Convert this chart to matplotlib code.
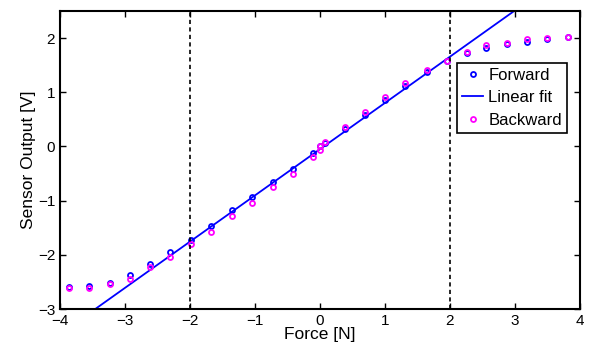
import numpy as np
import matplotlib
matplotlib.use("Agg")
import matplotlib.pyplot as plt

plt.rcParams["font.family"] = ["Liberation Sans", "DejaVu Sans"]

# Forward sweep
force_fwd = [-3.86, -3.55, -3.23, -2.92, -2.62, -2.30, -1.99, -1.68, -1.36, -1.04,
             -0.73, -0.42, -0.11, 0.00, 0.07, 0.38, 0.69, 1.00, 1.31, 1.64,
             1.95, 2.26, 2.56, 2.88, 3.19, 3.50, 3.81]
volt_fwd = [-2.60, -2.58, -2.52, -2.38, -2.16, -1.95, -1.73, -1.46, -1.17, -0.94,
            -0.65, -0.41, -0.12, 0.00, 0.06, 0.32, 0.58, 0.86, 1.12, 1.37,
            1.57, 1.73, 1.82, 1.89, 1.93, 1.99, 2.01]

# Backward sweep
force_bwd = [-3.86, -3.55, -3.23, -2.92, -2.62, -2.30, -1.99, -1.68, -1.36, -1.04,
             -0.73, -0.42, -0.11, 0.00, 0.00, 0.07, 0.38, 0.69, 1.00, 1.31,
             1.64, 1.95, 2.26, 2.56, 2.88, 3.19, 3.50, 3.81]
volt_bwd = [-2.61, -2.61, -2.53, -2.44, -2.22, -2.04, -1.80, -1.57, -1.28, -1.05,
            -0.75, -0.51, -0.19, -0.06, 0.00, 0.09, 0.36, 0.63, 0.91, 1.17,
            1.41, 1.57, 1.74, 1.87, 1.90, 1.98, 2.00, 2.02]

# linear fit within the +-2 N range
fit_slope = 0.853
fit_offset = -0.05
fit_range = [-4.0, 4.0]
bounds = [-2, 2]

fig = plt.figure(figsize=(5.9, 3.52), dpi=100)
ax = fig.add_axes([0.1017, 0.122, 0.8813, 0.847])

xf = np.array(fit_range)
ax.plot(force_fwd, volt_fwd, "o", color="#0000FF", mfc="none", ms=3.6, mew=1.3,
        label="Forward")
ax.plot(xf, fit_slope * xf + fit_offset, "-", color="#0000FF", lw=1.3,
        label="Linear fit")
ax.plot(force_bwd, volt_bwd, "o", color="#FF00FF", mfc="none", ms=3.6, mew=1.3,
        label="Backward")
for b in bounds:
    ax.axvline(b, color="black", ls=(0, (2.5, 2)), lw=1.2)

ax.set_xlim(-4, 4)
ax.set_ylim(-3, 2.5)
ax.set_xticks(range(-4, 5))
ax.set_yticks(range(-3, 3))
ax.tick_params(direction="in", top=True, right=True, labelsize=11, width=1, length=4)
for s in ax.spines.values():
    s.set_linewidth(1.5)
ax.set_xlabel("Force [N]", fontsize=12.5, labelpad=-1)
ax.set_ylabel("Sensor Output [V]", fontsize=12.5, labelpad=1)

leg = ax.legend(loc="upper right", bbox_to_anchor=(0.975, 0.826), borderaxespad=0,
                numpoints=1, handlelength=1.3, handletextpad=0.3, labelspacing=0.45,
                fontsize=12, fancybox=False, framealpha=1, edgecolor="black",
                borderpad=0.3)
leg.get_frame().set_linewidth(1.2)

plt.savefig("out.png", dpi=100)
